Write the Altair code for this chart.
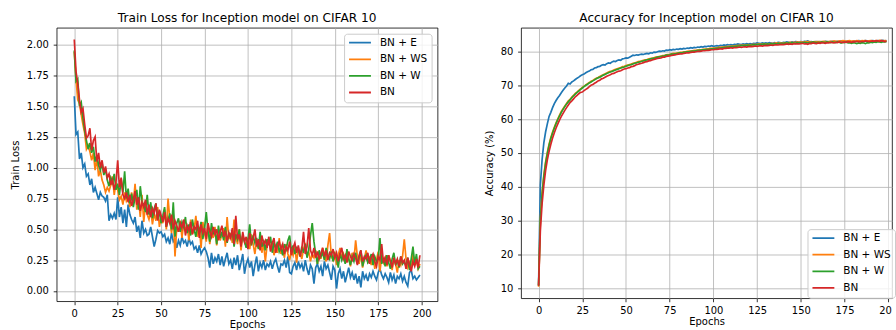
import altair as alt
import pandas as pd

epochs = list(range(200))
series_names = ["BN + E", "BN + WS", "BN + W", "BN"]
colors = ["#1f77b4", "#ff7f0e", "#2ca02c", "#d62728"]
x_ticks = [0, 25, 50, 75, 100, 125, 150, 175, 200]
loss_ticks = [0.0, 0.25, 0.5, 0.75, 1.0, 1.25, 1.5, 1.75, 2.0]
acc_ticks = [10, 20, 30, 40, 50, 60, 70, 80]

loss_bn_e = [
    1.58, 1.27, 1.29, 1.07, 1.12, 1.00, 1.03, 0.93, 0.95, 0.86,
    0.91, 0.80, 0.84, 0.79, 0.74, 0.80, 0.77, 0.76, 0.73, 0.78,
    0.57, 0.62, 0.59, 0.63, 0.58, 0.76, 0.60, 0.68, 0.55, 0.66,
    0.52, 0.70, 0.62, 0.58, 0.55, 0.60, 0.48, 0.53, 0.43, 0.57,
    0.47, 0.50, 0.45, 0.46, 0.52, 0.44, 0.36, 0.42, 0.49, 0.47,
    0.48, 0.44, 0.46, 0.40, 0.43, 0.38, 0.47, 0.40, 0.42, 0.35,
    0.41, 0.37, 0.44, 0.39, 0.41, 0.36, 0.43, 0.38, 0.40, 0.34,
    0.36, 0.31, 0.37, 0.30, 0.33, 0.35, 0.32, 0.27, 0.19, 0.31,
    0.22, 0.27, 0.24, 0.30, 0.21, 0.28, 0.20, 0.26, 0.31, 0.22,
    0.25, 0.18, 0.27, 0.21, 0.29, 0.17, 0.23, 0.30, 0.14, 0.22,
    0.26, 0.19, 0.24, 0.12, 0.21, 0.28, 0.16, 0.23, 0.19, 0.25,
    0.17, 0.22, 0.20, 0.24, 0.18, 0.23, 0.26, 0.20, 0.15, 0.22,
    0.21, 0.25, 0.19, 0.28, 0.15, 0.14, 0.20, 0.23, 0.17, 0.24,
    0.19, 0.22, 0.16, 0.25, 0.18, 0.13, 0.21, 0.18, 0.06, 0.19,
    0.22, 0.16, 0.20, 0.12, 0.24, 0.18, 0.21, 0.15, 0.09, 0.20,
    0.17, 0.02, 0.14, 0.18, 0.10, 0.16, 0.07, 0.13, 0.19, 0.11,
    0.15, 0.09, 0.14, 0.06, 0.12, 0.03, 0.16, 0.10, 0.13, 0.08,
    0.14, 0.11, 0.16, 0.12, 0.09, 0.15, 0.18, 0.13, 0.10, 0.14,
    0.11, 0.07, 0.15, 0.09, 0.13, 0.06, 0.12, 0.10, 0.14, 0.08,
    0.12, 0.07, 0.04, 0.15, 0.17, 0.10, 0.12, 0.09, 0.11, 0.13,
]
loss_bn_ws = [
    1.94, 1.72, 1.55, 1.52, 1.43, 1.35, 1.28, 1.15, 1.18, 1.13,
    1.06, 1.12, 0.98, 1.08, 0.93, 0.98, 0.90, 0.86, 0.80, 0.84,
    0.81, 0.86, 0.93, 0.78, 0.88, 0.82, 0.74, 0.77, 0.70, 0.80,
    0.73, 0.76, 0.68, 0.80, 0.71, 0.87, 0.66, 0.75, 0.60, 0.78,
    0.56, 0.70, 0.62, 0.58, 0.66, 0.54, 0.63, 0.57, 0.68, 0.52,
    0.60, 0.55, 0.66, 0.50, 0.75, 0.58, 0.47, 0.62, 0.28, 0.52,
    0.48, 0.57, 0.43, 0.55, 0.49, 0.53, 0.41, 0.58, 0.46, 0.50,
    0.61, 0.44, 0.52, 0.35, 0.56, 0.47, 0.40, 0.55, 0.38, 0.49,
    0.43, 0.52, 0.37, 0.48, 0.41, 0.46, 0.51, 0.36, 0.60, 0.42,
    0.47, 0.39, 0.58, 0.44, 0.38, 0.50, 0.33, 0.45, 0.41, 0.36,
    0.43, 0.34, 0.46, 0.38, 0.30, 0.41, 0.35, 0.44, 0.31, 0.39,
    0.24, 0.37, 0.42, 0.33, 0.40, 0.29, 0.36, 0.31, 0.43, 0.30,
    0.34, 0.27, 0.38, 0.30, 0.25, 0.33, 0.29, 0.36, 0.23, 0.35,
    0.31, 0.26, 0.34, 0.39, 0.28, 0.32, 0.24, 0.30, 0.27, 0.33,
    0.22, 0.31, 0.26, 0.35, 0.29, 0.24, 0.37, 0.47, 0.28, 0.25,
    0.32, 0.21, 0.29, 0.35, 0.26, 0.30, 0.23, 0.33, 0.27, 0.20,
    0.31, 0.25, 0.41, 0.28, 0.22, 0.30, 0.19, 0.26, 0.33, 0.24,
    0.27, 0.21, 0.30, 0.18, 0.25, 0.32, 0.16, 0.28, 0.23, 0.27,
    0.20, 0.29, 0.24, 0.17, 0.26, 0.22, 0.15, 0.25, 0.21, 0.28,
    0.42, 0.26, 0.19, 0.23, 0.17, 0.30, 0.21, 0.25, 0.18, 0.22,
]
loss_bn_w = [
    1.95, 1.70, 1.72, 1.50, 1.53, 1.40, 1.30, 1.22, 1.15, 1.20,
    1.12, 1.17, 1.05, 1.10, 1.02, 0.98, 1.04, 0.94, 0.99, 0.90,
    0.85, 0.92, 0.88, 0.95, 0.82, 0.87, 0.78, 0.91, 0.80, 0.97,
    0.75, 0.83, 0.71, 0.79, 0.68, 0.76, 0.82, 0.66, 0.85, 0.72,
    0.70, 0.64, 0.78, 0.62, 0.72, 0.59, 0.67, 0.71, 0.58, 0.65,
    0.55, 0.61, 0.68, 0.52, 0.57, 0.63, 0.50, 0.72, 0.44, 0.55,
    0.59, 0.48, 0.56, 0.52, 0.60, 0.47, 0.54, 0.45, 0.58, 0.50,
    0.44, 0.53, 0.47, 0.56, 0.42, 0.51, 0.64, 0.48, 0.40, 0.55,
    0.46, 0.50, 0.38, 0.53, 0.43, 0.48, 0.41, 0.52, 0.39, 0.47,
    0.44, 0.49, 0.36, 0.46, 0.42, 0.50, 0.38, 0.45, 0.40, 0.35,
    0.41, 0.54, 0.37, 0.45, 0.39, 0.43, 0.34, 0.48, 0.36, 0.40,
    0.33, 0.42, 0.37, 0.44, 0.31, 0.39, 0.35, 0.40, 0.32, 0.36,
    0.29, 0.38, 0.34, 0.41, 0.45, 0.32, 0.37, 0.30, 0.35, 0.33,
    0.28, 0.36, 0.31, 0.38, 0.27, 0.34, 0.45, 0.55, 0.40, 0.30,
    0.22, 0.33, 0.28, 0.31, 0.25, 0.35, 0.29, 0.26, 0.32, 0.24,
    0.30, 0.27, 0.19, 0.31, 0.25, 0.29, 0.22, 0.34, 0.26, 0.21,
    0.28, 0.24, 0.31, 0.22, 0.27, 0.33, 0.20, 0.26, 0.29, 0.23,
    0.25, 0.30, 0.21, 0.28, 0.24, 0.26, 0.43, 0.22, 0.27, 0.20,
    0.29, 0.23, 0.18, 0.26, 0.31, 0.21, 0.25, 0.19, 0.28, 0.22,
    0.24, 0.20, 0.27, 0.17, 0.26, 0.36, 0.22, 0.30, 0.18, 0.20,
]
loss_bn = [
    2.04, 1.78, 1.68, 1.55, 1.45, 1.48, 1.35, 1.24, 1.26, 1.32,
    1.14, 1.22, 1.25, 1.05, 1.12, 1.00, 1.06, 0.96, 1.01, 0.92,
    0.95, 0.86, 0.90, 0.82, 0.88, 1.06, 0.84, 0.92, 0.78, 0.75,
    0.80, 0.72, 0.78, 0.69, 0.74, 0.81, 0.70, 0.76, 0.65, 0.72,
    0.68, 0.74, 0.62, 0.70, 0.60, 0.67, 0.63, 0.71, 0.57, 0.66,
    0.61, 0.56, 0.64, 0.52, 0.59, 0.55, 0.62, 0.50, 0.57, 0.53,
    0.48, 0.55, 0.51, 0.58, 0.45, 0.53, 0.49, 0.56, 0.46, 0.52,
    0.50, 0.57, 0.43, 0.54, 0.47, 0.51, 0.42, 0.55, 0.48, 0.44,
    0.52, 0.46, 0.50, 0.41, 0.48, 0.53, 0.44, 0.49, 0.40, 0.47,
    0.43, 0.51, 0.38, 0.61, 0.42, 0.46, 0.36, 0.48, 0.40, 0.44,
    0.34, 0.47, 0.39, 0.43, 0.50, 0.36, 0.42, 0.33, 0.45, 0.38,
    0.41, 0.35, 0.44, 0.32, 0.39, 0.43, 0.31, 0.37, 0.40, 0.34,
    0.38, 0.30, 0.36, 0.33, 0.40, 0.29, 0.35, 0.39, 0.31, 0.37,
    0.28, 0.34, 0.48, 0.30, 0.36, 0.51, 0.33, 0.29, 0.35, 0.27,
    0.32, 0.26, 0.30, 0.35, 0.28, 0.33, 0.25, 0.31, 0.29, 0.34,
    0.27, 0.31, 0.24, 0.30, 0.35, 0.26, 0.29, 0.23, 0.32, 0.28,
    0.25, 0.30, 0.27, 0.21, 0.29, 0.33, 0.24, 0.28, 0.26, 0.31,
    0.22, 0.27, 0.30, 0.24, 0.20, 0.28, 0.25, 0.38, 0.23, 0.27,
    0.21, 0.29, 0.24, 0.19, 0.27, 0.22, 0.26, 0.20, 0.28, 0.23,
    0.25, 0.18, 0.27, 0.21, 0.16, 0.24, 0.20, 0.26, 0.19, 0.29,
]

acc_bn_e = [
    11.0, 40.5, 48.0, 53.0, 56.2, 58.6, 60.8, 62.0, 63.4, 64.6,
    65.5, 66.3, 67.0, 67.8, 68.5, 69.2, 69.8, 70.6, 70.4, 71.0,
    71.3, 71.7, 72.1, 72.4, 72.8, 73.1, 73.3, 73.7, 74.0, 74.2,
    74.6, 74.7, 75.1, 75.2, 75.5, 75.6, 75.9, 76.1, 76.0, 76.4,
    76.6, 76.5, 76.9, 77.1, 77.0, 77.3, 77.5, 77.4, 77.8, 77.9,
    78.1, 78.0, 78.3, 78.6, 78.9, 78.8, 79.0, 78.9, 79.1, 79.2,
    79.1, 79.3, 79.4, 79.3, 79.6, 79.5, 79.8, 79.7, 79.9, 80.1,
    80.0, 80.2, 80.1, 80.4, 80.3, 80.5, 80.4, 80.6, 80.5, 80.7,
    80.6, 80.8, 80.7, 80.9, 80.8, 81.0, 80.9, 81.1, 81.0, 81.2,
    81.1, 81.3, 81.2, 81.4, 81.3, 81.5, 81.4, 81.6, 81.5, 81.7,
    81.5, 81.6, 81.7, 81.6, 81.8, 81.7, 81.9, 81.8, 82.0, 81.9,
    82.0, 81.9, 82.1, 82.0, 82.2, 82.1, 82.0, 82.2, 82.1, 82.3,
    82.2, 82.3, 82.2, 82.4, 82.3, 82.5, 82.4, 82.3, 82.5, 82.4,
    82.5, 82.4, 82.6, 82.5, 82.4, 82.6, 82.5, 82.7, 82.6, 82.5,
    82.7, 82.6, 82.8, 82.7, 82.6, 82.8, 82.7, 82.9, 82.8, 82.7,
    82.9, 82.8, 83.0, 82.9, 83.1, 82.8, 82.9, 82.7, 82.8, 82.9,
    82.8, 82.9, 82.7, 82.8, 83.0, 82.9, 82.8, 82.9, 83.0, 82.8,
    82.9, 83.0, 82.9, 83.1, 83.0, 82.9, 83.0, 83.1, 83.0, 82.9,
    83.0, 83.1, 83.0, 83.2, 83.1, 83.0, 83.1, 83.2, 83.1, 83.0,
    83.1, 83.2, 83.1, 83.0, 83.2, 83.1, 83.2, 83.3, 83.1, 83.2,
]
acc_bn_ws = [
    10.5, 30.5, 38.2, 43.5, 47.3, 50.2, 52.6, 54.6, 56.2, 57.6,
    58.9, 60.1, 61.2, 62.3, 63.1, 63.9, 64.6, 65.4, 65.8, 66.5,
    67.0, 67.6, 68.0, 68.5, 68.9, 69.4, 69.7, 70.1, 70.5, 70.8,
    71.2, 71.4, 71.8, 72.1, 72.3, 72.6, 72.9, 73.1, 73.4, 73.6,
    73.9, 74.1, 74.2, 74.5, 74.7, 74.9, 75.1, 75.2, 75.5, 75.6,
    75.8, 76.0, 76.1, 76.3, 76.5, 76.6, 76.8, 77.0, 77.1, 77.2,
    77.4, 77.5, 77.6, 77.8, 77.9, 78.0, 78.1, 78.3, 78.4, 78.5,
    78.6, 78.8, 78.8, 79.0, 79.1, 79.1, 79.3, 79.4, 79.4, 79.5,
    79.6, 79.7, 79.7, 79.9, 79.9, 80.0, 80.1, 80.1, 80.2, 80.3,
    80.3, 80.4, 80.5, 80.5, 80.6, 80.7, 80.7, 80.8, 80.9, 80.9,
    81.0, 81.0, 81.1, 81.2, 81.2, 81.3, 81.3, 81.4, 81.4, 81.5,
    81.5, 81.6, 81.6, 81.7, 81.7, 81.8, 81.8, 81.9, 81.8, 81.9,
    82.0, 81.9, 82.0, 82.1, 82.0, 82.1, 82.2, 82.1, 82.2, 82.3,
    82.2, 82.3, 82.2, 82.4, 82.3, 82.4, 82.5, 82.4, 82.5, 82.4,
    82.5, 82.6, 82.5, 82.6, 82.7, 82.6, 82.7, 82.6, 82.8, 82.7,
    82.8, 82.7, 82.8, 82.9, 82.8, 82.9, 82.7, 82.8, 82.9, 82.8,
    82.9, 82.8, 82.9, 83.0, 82.9, 82.8, 82.9, 83.0, 82.9, 83.1,
    83.0, 82.9, 83.1, 83.0, 83.2, 83.1, 83.0, 83.1, 83.2, 83.0,
    83.1, 83.0, 83.2, 83.1, 83.0, 83.2, 83.1, 83.2, 83.0, 83.1,
    83.2, 83.1, 83.0, 83.2, 83.1, 83.3, 83.2, 83.1, 83.2, 83.1,
]
acc_bn_w = [
    10.8, 30.0, 37.8, 43.0, 46.9, 49.8, 52.3, 54.3, 55.9, 57.4,
    58.7, 59.9, 61.0, 62.0, 62.9, 63.7, 64.5, 65.1, 65.7, 66.3,
    66.9, 67.4, 67.9, 68.3, 68.8, 69.2, 69.6, 70.0, 70.3, 70.7,
    71.0, 71.3, 71.6, 71.9, 72.2, 72.4, 72.7, 73.0, 73.2, 73.5,
    73.7, 73.9, 74.1, 74.3, 74.5, 74.7, 74.9, 75.1, 75.3, 75.4,
    75.6, 75.8, 76.0, 76.1, 76.3, 76.5, 76.6, 76.8, 76.9, 77.1,
    77.2, 77.4, 77.5, 77.6, 77.8, 77.9, 78.0, 78.1, 78.3, 78.4,
    78.5, 78.6, 78.7, 78.9, 78.9, 79.0, 79.2, 79.2, 79.3, 79.4,
    79.5, 79.6, 79.6, 79.7, 79.8, 79.9, 79.9, 80.0, 80.1, 80.1,
    80.2, 80.3, 80.3, 80.4, 80.5, 80.5, 80.6, 80.6, 80.7, 80.8,
    80.8, 80.9, 80.9, 81.0, 81.0, 81.1, 81.2, 81.2, 81.3, 81.3,
    81.4, 81.4, 81.5, 81.5, 81.6, 81.6, 81.7, 81.7, 81.8, 81.8,
    81.9, 81.8, 81.9, 82.0, 81.9, 82.0, 82.1, 82.0, 82.1, 82.2,
    82.1, 82.2, 82.1, 82.3, 82.2, 82.3, 82.2, 82.4, 82.3, 82.4,
    82.3, 82.5, 82.4, 82.5, 82.4, 82.6, 82.5, 82.4, 82.6, 82.5,
    82.6, 82.5, 82.7, 82.6, 82.5, 82.7, 82.6, 82.8, 82.7, 82.6,
    82.7, 82.6, 82.8, 82.7, 82.6, 82.8, 82.7, 82.6, 82.8, 82.7,
    82.6, 82.8, 82.7, 82.5, 82.7, 82.6, 82.8, 82.5, 82.6, 82.4,
    82.6, 82.5, 82.3, 82.5, 82.4, 82.6, 82.5, 82.3, 82.6, 82.5,
    82.7, 82.6, 82.8, 82.7, 82.9, 82.8, 82.7, 82.9, 82.8, 82.9,
]
acc_bn = [
    10.8, 27.0, 35.0, 40.5, 44.8, 48.0, 50.5, 52.6, 54.4, 56.0,
    57.4, 58.6, 59.8, 60.8, 61.7, 62.6, 63.4, 64.2, 64.9, 65.4,
    66.0, 66.6, 67.0, 67.5, 67.9, 68.0, 68.4, 68.8, 69.1, 69.6,
    70.0, 70.2, 70.6, 70.9, 71.3, 71.5, 71.9, 72.1, 72.4, 72.7,
    72.9, 73.1, 73.4, 73.5, 73.8, 74.0, 74.2, 74.3, 74.6, 74.8,
    74.9, 75.1, 75.2, 75.5, 75.6, 75.8, 76.1, 76.2, 76.4, 76.5,
    76.7, 76.9, 77.0, 77.2, 77.3, 77.5, 77.6, 77.8, 77.9, 78.0,
    78.1, 78.3, 78.3, 78.5, 78.6, 78.7, 78.8, 78.9, 79.0, 79.1,
    79.2, 79.3, 79.3, 79.4, 79.5, 79.6, 79.6, 79.7, 79.8, 79.8,
    79.9, 80.0, 80.0, 80.1, 80.2, 80.2, 80.3, 80.3, 80.4, 80.5,
    80.5, 80.6, 80.6, 80.7, 80.8, 80.7, 80.9, 80.9, 81.0, 81.0,
    81.1, 81.0, 81.2, 81.1, 81.2, 81.3, 81.2, 81.3, 81.4, 81.3,
    81.4, 81.5, 81.4, 81.5, 81.6, 81.5, 81.6, 81.7, 81.6, 81.7,
    81.8, 81.7, 81.8, 81.9, 81.8, 81.9, 82.0, 81.9, 82.0, 82.1,
    82.0, 82.1, 82.2, 82.1, 82.2, 82.1, 82.3, 82.2, 82.3, 82.2,
    82.3, 82.4, 82.2, 82.3, 82.1, 82.4, 82.3, 82.5, 82.4, 82.3,
    82.5, 82.4, 82.6, 82.5, 82.4, 82.6, 82.5, 82.7, 82.6, 82.5,
    82.7, 82.6, 82.8, 82.7, 82.6, 82.8, 82.7, 82.9, 82.8, 82.7,
    82.9, 82.8, 83.0, 82.9, 82.8, 83.0, 82.9, 83.1, 83.0, 82.9,
    83.0, 83.1, 83.0, 83.2, 83.1, 83.0, 83.2, 83.1, 82.9, 83.0,
]

FONT = "DejaVu Sans"


def long_table(arrays):
    rows = []
    for name, arr in zip(series_names, arrays):
        for e, v in zip(epochs, arr):
            rows.append({"epoch": e, "value": v, "series": name})
    return pd.DataFrame(rows)


loss_df = long_table([loss_bn_e, loss_bn_ws, loss_bn_w, loss_bn])
acc_df = long_table([acc_bn_e, acc_bn_ws, acc_bn_w, acc_bn])


def axis(values, title, fmt, label_pad, title_pad, **extra):
    return alt.Axis(
        values=values, title=title, format=fmt, grid=True,
        gridColor="#b0b0b0", gridWidth=0.8, domain=False,
        tickColor="black", tickSize=3.5, tickWidth=0.8,
        labelFont=FONT, labelFontSize=10, labelColor="black",
        labelPadding=label_pad, labelFlush=False, labelOverlap=False,
        titleFont=FONT, titleFontSize=10, titleFontWeight="normal",
        titleColor="black", titlePadding=title_pad, **extra,
    )


def make_legend(**place):
    return alt.Legend(
        title=None, symbolType="stroke", symbolSize=484,
        symbolStrokeWidth=1.8, labelFont=FONT, labelFontSize=10.5,
        labelColor="black", labelOffset=8, padding=4, clipHeight=10,
        rowPadding=5.7, strokeColor="#cccccc",
        fillColor="rgba(255,255,255,0.8)", cornerRadius=3, **place,
    )


def panel(df, title, xdomain, xaxis, ydomain, yaxis, width, height, legend):
    color = alt.Color(
        "series:N", scale=alt.Scale(domain=series_names, range=colors),
        legend=legend,
    )
    layers = []
    for name in series_names:
        layers.append(
            alt.Chart(df)
            .transform_filter(alt.datum.series == name)
            .mark_line(strokeWidth=1.7)
            .encode(
                x=alt.X("epoch:Q",
                        scale=alt.Scale(domain=xdomain, nice=False, zero=False),
                        axis=xaxis),
                y=alt.Y("value:Q",
                        scale=alt.Scale(domain=ydomain, nice=False, zero=False),
                        axis=yaxis),
                color=color,
            )
        )
    return alt.layer(*layers).properties(
        width=width, height=height,
        title=alt.TitleParams(title, font=FONT, fontSize=12.2,
                              fontWeight="normal", color="black",
                              anchor="middle", offset=4),
    )


left = panel(
    loss_df, "Train Loss for Inception model on CIFAR 10",
    [-10.13, 209.16], axis(x_ticks, "Epochs", "d", 3.5, 1.5),
    [-0.083, 2.1347], axis(loss_ticks, "Train Loss", ".2f", 4.8, 6),
    383, 275, make_legend(orient="top-right", offset=6),
)

# right panel runs past the picture's right edge; its last tick label shows
# only as its first two glyphs
right_x_axis = axis(
    x_ticks, "Epochs", "d", 3.5, 1.5,
    labelExpr="datum.value == 200 ? '20' : datum.label",
    labelOffset=alt.condition("datum.value == 200", alt.value(-3.2), alt.value(0)),
)
right = panel(
    acc_df, "Accuracy for Inception model on CIFAR 10",
    [-10.01, 202.17], right_x_axis,
    [7.09, 86.99], axis(acc_ticks, "Accuracy (%)", "d", 4.8, 6),
    373, 272, make_legend(orient="none", legendX=288, legendY=202.5),
)

chart = (
    alt.hconcat(left, right, spacing=45)
    .resolve_scale(color="independent")
    .resolve_legend(color="independent")
    .properties(padding={"left": 10, "top": 10, "right": 0, "bottom": 0},
                background="white")
    .configure_view(stroke="black", strokeWidth=0.8)
)

chart.save("out.html", embed_options={"renderer": "svg", "actions": False})
